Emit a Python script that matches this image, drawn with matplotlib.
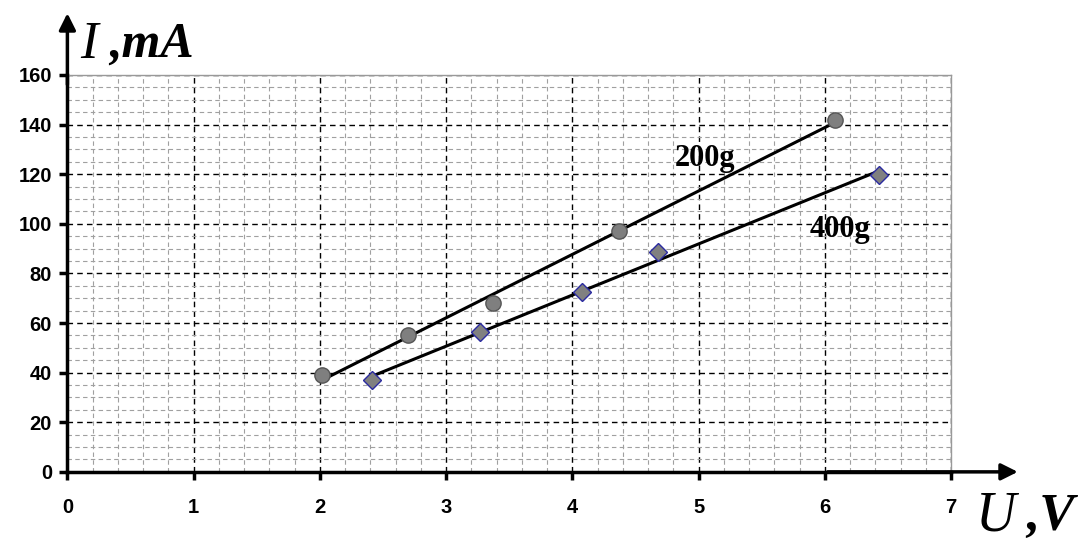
import matplotlib.pyplot as plt
import numpy as np
from matplotlib.ticker import MultipleLocator

# data
u_200g = [2.02, 2.70, 3.37, 4.37, 6.08]
i_200g = [39, 55, 68, 97, 142]
u_400g = [2.41, 3.27, 4.08, 4.68, 6.43]
i_400g = [37, 56.5, 72.6, 88.7, 119.5]

x_ticks = [0, 1, 2, 3, 4, 5, 6, 7]
y_ticks = [0, 20, 40, 60, 80, 100, 120, 140, 160]


def main():
    fig = plt.figure(figsize=(10.87, 5.43), dpi=100)
    ax = fig.add_axes([0.062, 0.131, 0.813, 0.731])

    ax.set_xlim(0, 7)
    ax.set_ylim(0, 160)
    ax.xaxis.set_major_locator(MultipleLocator(1))
    ax.xaxis.set_minor_locator(MultipleLocator(0.2))
    ax.yaxis.set_major_locator(MultipleLocator(20))
    ax.yaxis.set_minor_locator(MultipleLocator(5))

    ax.grid(which='minor', color='#a0a0a0', linestyle=(0, (4, 3)), linewidth=0.8)
    ax.grid(which='major', color='black', linestyle=(0, (4, 3)), linewidth=1.0)
    ax.set_axisbelow(True)

    for side in ['top', 'right']:
        ax.spines[side].set_color('#999999')
        ax.spines[side].set_linewidth(1.0)
    for side in ['left', 'bottom']:
        ax.spines[side].set_color('black')
        ax.spines[side].set_linewidth(2.5)

    ax.set_xticks(x_ticks)
    ax.set_yticks(y_ticks)
    ax.tick_params(which='major', length=6, width=2.5, color='black')
    ax.tick_params(which='minor', length=0)
    ax.tick_params(axis='x', pad=13)
    ax.tick_params(axis='y', pad=5)
    for lbl in ax.get_xticklabels() + ax.get_yticklabels():
        lbl.set_fontfamily('Liberation Sans')
        lbl.set_fontweight('bold')
        lbl.set_fontsize(14.5)

    # fitted lines
    for u, i in [(u_200g, i_200g), (u_400g, i_400g)]:
        k, b = np.polyfit(u, i, 1)
        xs = np.array([min(u), max(u)])
        ax.plot(xs, k * xs + b, color='black', linewidth=2.2, zorder=3)

    ax.plot(u_200g, i_200g, 'o', markersize=11, markerfacecolor='#7f7f7f',
            markeredgecolor='#555555', markeredgewidth=1.0, zorder=4)
    ax.plot(u_400g, i_400g, 'D', markersize=9, markerfacecolor='#808080',
            markeredgecolor='#2a2aa0', markeredgewidth=1.0, zorder=4)

    ax.text(5.05, 126.5, '200g', fontfamily='Liberation Serif', fontweight='bold',
            fontsize=22, ha='center', va='center')
    ax.text(6.12, 97.5, '400g', fontfamily='Liberation Serif', fontweight='bold',
            fontsize=22, ha='center', va='center')

    # axis arrows
    ax.annotate('', xy=(7.55, 0), xytext=(6.0, 0), xycoords='data',
                arrowprops=dict(arrowstyle='-|>', color='black', lw=2.5,
                                mutation_scale=25), annotation_clip=False)
    ax.annotate('', xy=(0, 186), xytext=(0, 155), xycoords='data',
                arrowprops=dict(arrowstyle='-|>', color='black', lw=2.5,
                                mutation_scale=25), annotation_clip=False)

    fig.text(0.074, 0.918, 'I', fontfamily='Liberation Serif', fontstyle='italic',
             fontsize=38, ha='left', va='center')
    fig.text(0.100, 0.918, ',mA', fontfamily='Liberation Serif', fontstyle='italic',
             fontweight='bold', fontsize=36, ha='left', va='center')
    fig.text(0.898, 0.048, 'U', fontfamily='Liberation Serif', fontstyle='italic',
             fontsize=40, ha='left', va='center')
    fig.text(0.944, 0.048, ',V', fontfamily='Liberation Serif', fontstyle='italic',
             fontweight='bold', fontsize=38, ha='left', va='center')

    fig.savefig('out.png', dpi=100)


if __name__ == '__main__':
    main()
